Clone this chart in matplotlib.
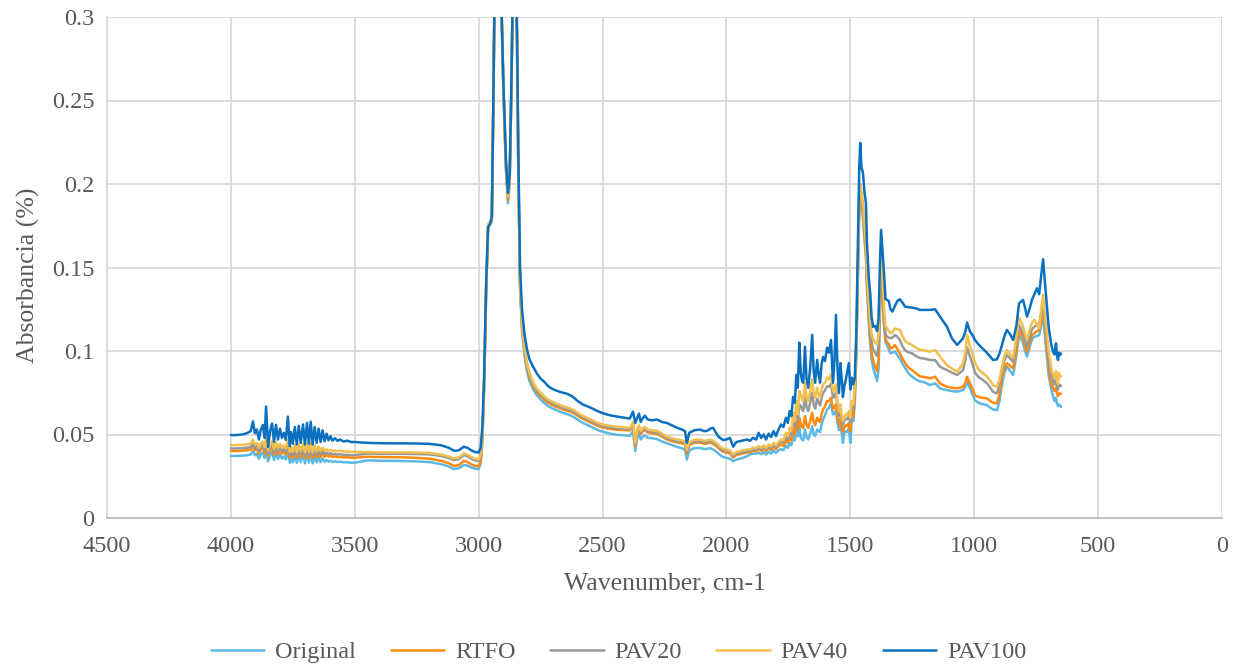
import matplotlib
matplotlib.use("Agg")
import matplotlib.pyplot as plt

# ---------------- data ----------------
wavenumber = [
    4000, 3985, 3970, 3955, 3942, 3930, 3920, 3911, 3903, 3895,
    3887, 3880, 3871, 3864, 3858, 3850, 3842, 3834, 3826, 3818,
    3810, 3802, 3794, 3786, 3778, 3770, 3762, 3757, 3750, 3742,
    3734, 3726, 3718, 3709, 3701, 3693, 3685, 3678, 3670, 3662,
    3654, 3646, 3638, 3630, 3622, 3614, 3606, 3598, 3590, 3580,
    3570, 3560, 3545, 3530, 3515, 3500,
    3450, 3400, 3350, 3300, 3250, 3200, 3150, 3120, 3100, 3080,
    3060, 3045, 3030, 3015, 3000, 2992, 2985, 2978, 2970, 2962,
    2955, 2947, 2940, 2934, 2925, 2912, 2900, 2890, 2882, 2875,
    2868, 2860, 2852, 2845, 2840, 2833, 2825, 2815, 2805, 2795,
    2780, 2765, 2750, 2735, 2720, 2705, 2690, 2675, 2660, 2645,
    2630, 2615, 2600, 2580, 2560, 2540, 2520, 2500, 2470, 2440,
    2410, 2390, 2377, 2368, 2360, 2353, 2346, 2339, 2329, 2318,
    2300, 2280, 2260, 2240, 2220, 2199, 2180, 2167, 2160, 2150,
    2130, 2107, 2090, 2078, 2065, 2054, 2042, 2034, 2024, 2014,
    2000, 1986, 1973, 1960, 1945, 1930, 1917, 1905, 1893, 1880,
    1870, 1860, 1850, 1840, 1830, 1820, 1810, 1800, 1790, 1780,
    1770, 1760, 1752, 1745, 1738, 1731, 1724, 1718, 1712, 1706,
    1700, 1695, 1690, 1683, 1677, 1670, 1662, 1654, 1648, 1642,
    1634, 1628, 1622, 1616, 1610, 1602, 1594, 1586, 1578, 1570,
    1564, 1558, 1552, 1546, 1540, 1534, 1530, 1524, 1518, 1512,
    1506, 1500, 1494, 1488, 1482, 1476, 1470, 1464, 1460, 1455,
    1449, 1443, 1437, 1433, 1426, 1420, 1414, 1408, 1400, 1392,
    1386, 1380, 1376, 1370, 1364, 1358, 1352, 1345, 1338, 1330,
    1320, 1310, 1300, 1290, 1279, 1265, 1251, 1235, 1219, 1200,
    1178, 1158, 1138, 1124, 1110, 1090, 1069, 1045, 1035, 1029,
    1017, 1007, 997, 983, 968, 948, 935, 924, 908, 898,
    888, 878, 868, 855, 843, 830, 819, 803, 795, 787,
    777, 767, 757, 747, 738, 730, 722, 714, 706, 700,
    694, 688, 682, 676, 670, 666, 662, 658, 654, 650,
]

original = [
    .0372, .0371, .0372, .0373, .0375, .0377, .0380, .0403, .0375, .0385,
    .0355, .0380, .0393, .0360, .0415, .0340, .0375, .0395, .0347, .0390,
    .0353, .0380, .0355, .0370, .0350, .0405, .0330, .0360, .0333, .0375,
    .0330, .0377, .0335, .0380, .0328, .0383, .0331, .0385, .0328, .0370,
    .0333, .0363, .0335, .0357, .0337, .0347, .0338, .0343, .0335, .0339,
    .0335, .0337, .0333, .0334, .0331, .0331,
    .0345, .0343, .0342, .0341, .0339, .0335, .0322, .0308, .0293, .0298,
    .0318, .0314, .0303, .0295, .0294, .0325, .0455, .0765, .1330, .1740,
    .1755, .1775, .2550, .3400, .3600, .3300, .2550, .2090, .1885, .1990,
    .2550, .3400, .3500, .2820, .2060, .1375, .1120, .0970, .0880, .0820,
    .0770, .0735, .0710, .0688, .0670, .0658, .0648, .0638, .0630, .0623,
    .0615, .0603, .0588, .0570, .0556, .0542, .0527, .0517, .0505, .0498,
    .0495, .0492, .0520, .0400, .0482, .0505, .0470, .0485, .0495, .0480,
    .0478, .0472, .0458, .0447, .0437, .0425, .0418, .0410, .0350, .0405,
    .0418, .0420, .0412, .0415, .0418, .0410, .0398, .0388, .0375, .0365,
    .0360, .0355, .0340, .0350, .0355, .0362, .0370, .0380, .0385, .0385,
    .0390, .0382, .0395, .0380, .0398, .0385, .0405, .0390, .0405, .0412,
    .0405, .0435, .0420, .0450, .0435, .0490, .0465, .0535, .0490, .0550,
    .0480, .0470, .0465, .0530, .0485, .0470, .0505, .0550, .0500, .0490,
    .0530, .0520, .0515, .0560, .0590, .0615, .0650, .0660, .0687, .0620,
    .0625, .0640, .0570, .0527, .0555, .0500, .0450, .0510, .0520, .0515,
    .0535, .0450, .0600, .0580, .0690, .0970, .1420, .1850, .1920, .1870,
    .1800, .1670, .1560, .1390, .1190, .1050, .0950, .0900, .0860, .0820,
    .0890, .1250, .1470, .1320, .1150, .1050, .1036, .1010, .0986, .0990,
    .0996, .0975, .0956, .0925, .0898, .0866, .0846, .0830, .0818, .0812,
    .0796, .0806, .0776, .0770, .0766, .0760, .0756, .0766, .0790, .0816,
    .0776, .0740, .0705, .0690, .0682, .0676, .0660, .0650, .0646, .0700,
    .0796, .0870, .0906, .0880, .0856, .0970, .1096, .1050, .1000, .0966,
    .1020, .1070, .1086, .1090, .1096, .1150, .1216, .1080, .0956, .0860,
    .0810, .0766, .0730, .0700, .0720, .0686, .0670, .0680, .0676, .0665,
]

rtfo = [
    .0402, .0401, .0402, .0403, .0405, .0407, .0410, .0433, .0405, .0415,
    .0385, .0410, .0423, .0390, .0445, .0370, .0405, .0425, .0377, .0420,
    .0383, .0410, .0385, .0400, .0380, .0435, .0360, .0390, .0363, .0405,
    .0360, .0407, .0365, .0410, .0358, .0413, .0361, .0415, .0358, .0400,
    .0363, .0393, .0365, .0387, .0367, .0377, .0368, .0373, .0365, .0369,
    .0365, .0367, .0363, .0364, .0361, .0361,
    .0367, .0365, .0364, .0363, .0360, .0355, .0342, .0327, .0312, .0317,
    .0342, .0336, .0322, .0312, .0310, .0340, .0470, .0780, .1340, .1745,
    .1760, .1780, .2560, .3400, .3600, .3300, .2560, .2100, .1905, .2010,
    .2560, .3400, .3500, .2830, .2080, .1395, .1145, .0995, .0905, .0845,
    .0790, .0755, .0730, .0708, .0690, .0678, .0668, .0658, .0650, .0643,
    .0637, .0627, .0612, .0594, .0580, .0567, .0552, .0542, .0534, .0528,
    .0526, .0524, .0555, .0430, .0512, .0537, .0502, .0517, .0527, .0512,
    .0507, .0504, .0487, .0470, .0460, .0452, .0447, .0442, .0385, .0437,
    .0450, .0452, .0444, .0447, .0452, .0444, .0432, .0422, .0407, .0397,
    .0392, .0387, .0362, .0377, .0382, .0387, .0392, .0392, .0402, .0400,
    .0410, .0402, .0415, .0402, .0420, .0408, .0428, .0413, .0430, .0440,
    .0432, .0465, .0450, .0480, .0465, .0530, .0500, .0580, .0530, .0600,
    .0560, .0545, .0540, .0610, .0560, .0540, .0580, .0630, .0575, .0555,
    .0600, .0585, .0575, .0620, .0650, .0670, .0700, .0700, .0720, .0650,
    .0665, .0680, .0610, .0560, .0595, .0535, .0515, .0545, .0555, .0550,
    .0570, .0520, .0630, .0610, .0720, .0990, .1440, .1870, .1940, .1890,
    .1820, .1690, .1580, .1410, .1220, .1080, .0990, .0940, .0910, .0880,
    .0950, .1300, .1500, .1350, .1170, .1070, .1056, .1040, .1016, .1020,
    .1036, .1010, .0986, .0955, .0928, .0900, .0886, .0866, .0848, .0844,
    .0836, .0846, .0806, .0795, .0786, .0780, .0776, .0786, .0810, .0846,
    .0806, .0770, .0735, .0725, .0720, .0716, .0700, .0690, .0686, .0740,
    .0846, .0900, .0926, .0910, .0896, .1000, .1126, .1080, .1030, .0996,
    .1050, .1095, .1106, .1120, .1126, .1180, .1246, .1120, .0986, .0900,
    .0840, .0806, .0780, .0760, .0780, .0746, .0730, .0745, .0742, .0745,
]

pav20 = [
    .0417, .0416, .0417, .0418, .0420, .0422, .0425, .0448, .0420, .0430,
    .0400, .0425, .0438, .0405, .0460, .0385, .0420, .0440, .0392, .0435,
    .0398, .0425, .0400, .0415, .0395, .0450, .0375, .0405, .0378, .0420,
    .0375, .0422, .0380, .0425, .0373, .0428, .0376, .0430, .0373, .0415,
    .0378, .0408, .0380, .0402, .0382, .0392, .0383, .0388, .0380, .0384,
    .0380, .0382, .0378, .0379, .0376, .0376,
    .0386, .0384, .0384, .0384, .0383, .0381, .0371, .0359, .0347, .0352,
    .0377, .0370, .0355, .0345, .0342, .0370, .0500, .0810, .1370, .1755,
    .1765, .1785, .2570, .3400, .3600, .3300, .2570, .2110, .1915, .2020,
    .2570, .3400, .3500, .2840, .2090, .1405, .1155, .1005, .0915, .0855,
    .0800, .0765, .0740, .0718, .0700, .0688, .0678, .0668, .0660, .0653,
    .0645, .0635, .0620, .0602, .0588, .0575, .0560, .0550, .0542, .0536,
    .0533, .0531, .0565, .0440, .0520, .0545, .0510, .0525, .0535, .0520,
    .0515, .0512, .0495, .0477, .0468, .0460, .0455, .0450, .0395, .0445,
    .0458, .0460, .0452, .0455, .0460, .0452, .0440, .0430, .0415, .0405,
    .0400, .0395, .0370, .0385, .0390, .0395, .0400, .0400, .0410, .0408,
    .0420, .0410, .0425, .0410, .0430, .0418, .0440, .0425, .0445, .0458,
    .0452, .0490, .0470, .0510, .0495, .0580, .0545, .0640, .0580, .0680,
    .0670, .0650, .0640, .0730, .0665, .0640, .0690, .0750, .0680, .0655,
    .0715, .0690, .0675, .0720, .0750, .0765, .0790, .0785, .0805, .0720,
    .0730, .0750, .0665, .0610, .0645, .0575, .0555, .0585, .0595, .0590,
    .0610, .0570, .0670, .0650, .0760, .1020, .1470, .1900, .1970, .1920,
    .1850, .1720, .1610, .1440, .1260, .1130, .1050, .1010, .0990, .0970,
    .1030, .1380, .1550, .1400, .1200, .1100, .1086, .1080, .1076, .1080,
    .1096, .1085, .1066, .1030, .1004, .0992, .0986, .0970, .0958, .0954,
    .0946, .0946, .0906, .0895, .0886, .0870, .0856, .0886, .0950, .1022,
    .0966, .0925, .0870, .0845, .0830, .0806, .0780, .0755, .0746, .0800,
    .0886, .0945, .0976, .0955, .0936, .1050, .1156, .1110, .1060, .1026,
    .1080, .1130, .1146, .1155, .1166, .1220, .1266, .1150, .1026, .0940,
    .0880, .0846, .0820, .0800, .0830, .0786, .0770, .0800, .0796, .0790,
]

pav40 = [
    .0437, .0436, .0437, .0438, .0440, .0442, .0445, .0468, .0440, .0450,
    .0420, .0445, .0458, .0425, .0480, .0405, .0440, .0460, .0412, .0455,
    .0418, .0445, .0420, .0435, .0415, .0470, .0395, .0425, .0398, .0440,
    .0395, .0442, .0400, .0445, .0393, .0448, .0396, .0450, .0393, .0435,
    .0398, .0428, .0400, .0422, .0402, .0412, .0403, .0408, .0400, .0404,
    .0400, .0402, .0398, .0399, .0396, .0396,
    .0395, .0393, .0393, .0393, .0392, .0390, .0380, .0368, .0357, .0362,
    .0387, .0380, .0365, .0355, .0352, .0380, .0510, .0820, .1380, .1760,
    .1770, .1790, .2580, .3400, .3600, .3300, .2580, .2120, .1925, .2030,
    .2580, .3400, .3500, .2850, .2100, .1420, .1170, .1020, .0930, .0870,
    .0810, .0775, .0750, .0728, .0710, .0698, .0688, .0678, .0670, .0663,
    .0655, .0645, .0630, .0612, .0598, .0585, .0570, .0560, .0552, .0546,
    .0542, .0540, .0575, .0450, .0530, .0555, .0520, .0535, .0545, .0530,
    .0525, .0522, .0505, .0487, .0478, .0470, .0465, .0460, .0407, .0455,
    .0468, .0470, .0462, .0465, .0470, .0462, .0450, .0440, .0425, .0415,
    .0410, .0405, .0380, .0395, .0400, .0405, .0410, .0410, .0420, .0418,
    .0430, .0420, .0435, .0420, .0440, .0428, .0450, .0435, .0455, .0470,
    .0465, .0510, .0490, .0540, .0520, .0629, .0580, .0700, .0620, .0760,
    .0740, .0710, .0700, .0810, .0730, .0700, .0760, .0830, .0750, .0720,
    .0780, .0740, .0720, .0770, .0800, .0810, .0840, .0830, .0860, .0760,
    .0770, .0800, .0700, .0640, .0680, .0600, .0580, .0610, .0620, .0617,
    .0640, .0600, .0700, .0680, .0790, .1050, .1500, .1930, .2000, .1950,
    .1880, .1760, .1650, .1480, .1300, .1180, .1100, .1070, .1050, .1040,
    .1100, .1450, .1600, .1450, .1250, .1150, .1136, .1120, .1106, .1110,
    .1136, .1130, .1126, .1090, .1060, .1045, .1036, .1020, .1008, .1004,
    .0996, .1006, .0966, .0940, .0916, .0895, .0876, .0926, .1000, .1096,
    .1026, .0980, .0930, .0890, .0870, .0846, .0820, .0795, .0786, .0830,
    .0906, .0970, .1006, .0980, .0958, .1080, .1198, .1150, .1100, .1066,
    .1120, .1170, .1186, .1160, .1136, .1250, .1336, .1200, .1096, .1000,
    .0950, .0886, .0860, .0840, .0880, .0826, .0800, .0870, .0846, .0850,
]

pav100 = [
    .0497, .0496, .0498, .0500, .0505, .0512, .0520, .0578, .0508, .0530,
    .0470, .0525, .0557, .0480, .0667, .0425, .0520, .0566, .0455, .0558,
    .0470, .0535, .0480, .0510, .0468, .0607, .0430, .0515, .0445, .0545,
    .0440, .0552, .0450, .0560, .0440, .0570, .0445, .0577, .0440, .0545,
    .0450, .0535, .0455, .0525, .0460, .0505, .0465, .0490, .0463, .0478,
    .0462, .0470, .0458, .0463, .0455, .0455,
    .0450, .0448, .0447, .0447, .0446, .0444, .0435, .0420, .0403, .0405,
    .0427, .0420, .0405, .0395, .0392, .0420, .0550, .0850, .1400, .1740,
    .1760, .1800, .2600, .3400, .3600, .3300, .2600, .2150, .1947, .2050,
    .2600, .3400, .3500, .2900, .2200, .1500, .1250, .1100, .1010, .0950,
    .0905, .0865, .0835, .0815, .0790, .0775, .0765, .0757, .0750, .0745,
    .0735, .0720, .0700, .0680, .0668, .0655, .0640, .0628, .0615, .0607,
    .0600, .0595, .0637, .0569, .0600, .0625, .0575, .0595, .0613, .0590,
    .0585, .0590, .0575, .0569, .0555, .0540, .0530, .0520, .0450, .0510,
    .0525, .0530, .0520, .0522, .0535, .0540, .0510, .0490, .0478, .0467,
    .0470, .0480, .0427, .0455, .0460, .0465, .0470, .0462, .0480, .0470,
    .0510, .0480, .0500, .0470, .0505, .0485, .0520, .0490, .0530, .0560,
    .0545, .0600, .0570, .0640, .0610, .0725, .0690, .0857, .0780, .1050,
    .0870, .0820, .0810, .1026, .0840, .0780, .0900, .1096, .0880, .0810,
    .0946, .0860, .0810, .0920, .0965, .0940, .1020, .0990, .1066, .0810,
    .0950, .1216, .0900, .0748, .0928, .0820, .0725, .0790, .0830, .0880,
    .0928, .0770, .0840, .0800, .0840, .1100, .1600, .2100, .2246, .2100,
    .2066, .1950, .1887, .1650, .1450, .1350, .1200, .1145, .1150, .1120,
    .1200, .1550, .1725, .1600, .1467, .1310, .1306, .1300, .1250, .1236,
    .1270, .1300, .1310, .1290, .1266, .1262, .1260, .1255, .1246, .1246,
    .1246, .1250, .1206, .1175, .1146, .1076, .1036, .1076, .1120, .1170,
    .1116, .1095, .1066, .1040, .1018, .0988, .0965, .0946, .0950, .0985,
    .1036, .1090, .1126, .1100, .1066, .1150, .1286, .1306, .1260, .1206,
    .1250, .1306, .1340, .1376, .1340, .1450, .1550, .1400, .1260, .1150,
    .1086, .1030, .0996, .0980, .1046, .0970, .0946, .0990, .0975, .0985,
]

series_names = ["Original", "RTFO", "PAV20", "PAV40", "PAV100"]
series_values = [original, rtfo, pav20, pav40, pav100]
series_colors = ["#5BB9E4", "#FF8A0D", "#999999", "#F2C04F", "#0A70BF"]

x_ticks = [4500, 4000, 3500, 3000, 2500, 2000, 1500, 1000, 500, 0]
y_ticks = [0, 0.05, 0.1, 0.15, 0.2, 0.25, 0.3]
y_tick_labels = ["0", "0.05", "0.1", "0.15", "0.2", "0.25", "0.3"]

# ---------------- plot ----------------
plt.rcParams["font.family"] = ["Liberation Serif", "DejaVu Serif"]
text_color = "#595959"

W, H = 1237, 665
fig = plt.figure(figsize=(W / 100, H / 100), dpi=100)
ax = fig.add_axes([107 / W, 1 - 518 / H, (1222 - 107) / W, (518 - 17) / H])

for name, vals, col in zip(series_names, series_values, series_colors):
    ax.plot(wavenumber, vals, color=col, lw=1.8, label=name,
            solid_joinstyle="round", solid_capstyle="round")

ax.set_xlim(4500, 0)
ax.set_ylim(0, 0.3)
ax.set_xticks(x_ticks)
ax.set_xticklabels([str(t) for t in x_ticks])
ax.set_yticks(y_ticks)
ax.set_yticklabels(y_tick_labels)

ax.grid(True, color="#D9D9D9", lw=1.3)
ax.set_axisbelow(True)
for s in ["top", "right"]:
    ax.spines[s].set_visible(False)
ax.spines["left"].set_color("#D9D9D9")
ax.spines["bottom"].set_color("#BFBFBF")
ax.spines["left"].set_linewidth(1.3)
ax.spines["bottom"].set_linewidth(1.3)
ax.tick_params(length=0, labelsize=17.5, colors=text_color)
ax.tick_params(axis="x", pad=13)
ax.tick_params(axis="y", pad=9)

ax.set_xlabel("Wavenumber, cm-1", fontsize=18.5, color=text_color, va="center")
ax.xaxis.set_label_coords(0.5, ((1 - 583 / H) - (1 - 518 / H)) / ((518 - 17) / H))
ax.set_ylabel("Absorbancia (%)", fontsize=18.5, color=text_color, va="center")
ax.yaxis.set_label_coords((28 - 107) / (1222 - 107), 0.485)

leg = fig.legend(loc="center", bbox_to_anchor=(0.5, 1 - 652 / H), ncol=5,
                 frameon=False, fontsize=17.5, handlelength=2.2,
                 columnspacing=1.42, handletextpad=0.45)
for t in leg.get_texts():
    t.set_color(text_color)

fig.savefig("out.png", dpi=100)
